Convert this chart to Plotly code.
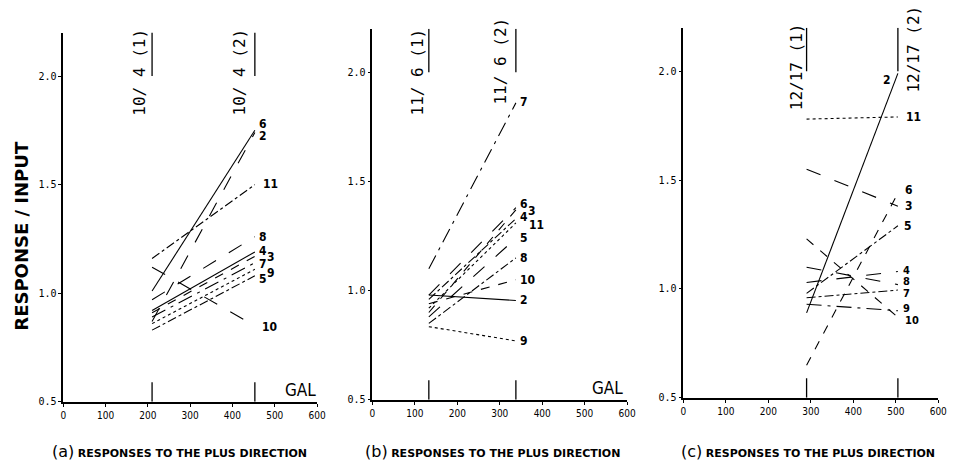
import plotly.graph_objects as go

# ---------------- data ----------------
labels = ["2", "3", "4", "5", "6", "7", "8", "9", "10", "11"]

gal_a = [210, 453]
start_a = [0.87, 0.91, 0.92, 0.83, 1.01, 0.89, 0.97, 0.86, 1.12, 1.16]
end_a = [1.74, 1.17, 1.19, 1.08, 1.75, 1.14, 1.26, 1.11, 0.85, 1.50]

gal_b = [133, 338]
start_b = [0.98, 0.90, 0.96, 0.88, 0.98, 1.10, 0.85, 0.835, 0.94, 0.92]
end_b = [0.955, 1.37, 1.33, 1.24, 1.38, 1.86, 1.15, 0.77, 1.05, 1.31]

gal_c = [290, 505]
start_c = [0.89, 1.55, 1.03, 0.98, 0.65, 0.96, 1.10, 0.93, 1.23, 1.78]
end_c = [1.99, 1.38, 1.08, 1.29, 1.44, 0.995, 1.02, 0.90, 0.87, 1.79]

dates_a = ["10/ 4 (1)", "10/ 4 (2)"]
dates_b = ["11/ 6 (1)", "11/ 6 (2)"]
dates_c = ["12/17 (1)", "12/17 (2)"]

x_ticks = [0, 100, 200, 300, 400, 500, 600]
y_ticks = [0.5, 1.0, 1.5, 2.0]
y_ticktext = ["0.5", "1.0", "1.5", "2.0"]

# ---------------- styles ----------------
dash_a = ["longdash", "dash", "solid", "dashdot", "solid", "longdashdot", "longdash", "dot", "longdash", "dashdot"]
dash_b = ["solid", "dash", "dashdot", "longdash", "longdash", "longdashdot", "dashdot", "dot", "dash", "dot"]
dash_c = ["solid", "longdash", "longdash", "dashdot", "dash", "dashdot", "longdash", "longdashdot", "dash", "dot"]

# label pixel offsets (dx, dy) relative to line end
off_a = {"6": (0, 6), "2": (0, -4), "4": (0, 1), "3": (8, -1), "9": (8, -4), "7": (0, -1),
         "5": (0, -3), "10": (3, -1), "11": (4, 1)}
off_b = {"6": (0, 4), "3": (8, -1), "4": (0, 2), "11": (9, -2), "7": (0, 1)}
off_c = {"6": (3, 3), "3": (3, 0), "5": (2, 0), "11": (4, 0), "4": (1, 1), "8": (1, 3),
         "7": (1, -3), "10": (3, -3), "9": (1, 2)}
small_c = {"4", "8", "7", "9", "10"}

FONT_C = "DejaVu Sans Condensed, Liberation Sans Narrow, sans-serif"
FONT_M = "DejaVu Sans Mono, monospace"
FONT_S = "DejaVu Sans, sans-serif"

W, H = 966, 470


def px_x(p):
    return p / W


def px_y(p):
    return (H - p) / H


fig = go.Figure()

panels = [
    ("x", "y", gal_a, start_a, end_a, dash_a, off_a, dates_a, [61, 318], [407, 33]),
    ("x2", "y2", gal_b, start_b, end_b, dash_b, off_b, dates_b, [374, 632], [405, 29]),
    ("x3", "y3", gal_c, start_c, end_c, dash_c, off_c, dates_c, [689, 947], [403, 28]),
]

annotations = []

for pi, (xa, ya, gal, st, en, dashes, offs, dates, xpx, ypx) in enumerate(panels):
    for i, lab in enumerate(labels):
        fig.add_trace(go.Scatter(
            x=[gal[0], gal[1]], y=[st[i], en[i]], mode="lines",
            line=dict(color="black", width=1.1, dash=dashes[i]),
            xaxis=xa, yaxis=ya, showlegend=False, hoverinfo="skip"))
        dx, dy = offs.get(lab, (0, 0))
        fsize = 11 if (pi == 2 and lab in small_c) else 12
        if pi == 2 and lab == "2":
            annotations.append(dict(x=gal[1], y=en[i], xref=xa, yref=ya, text="<b>2</b>",
                                    showarrow=False, xanchor="right", xshift=-5, yshift=-7,
                                    font=dict(family=FONT_C, size=12, color="black")))
        else:
            annotations.append(dict(x=gal[1], y=en[i], xref=xa, yref=ya, text="<b>" + lab + "</b>",
                                    showarrow=False, xanchor="left", xshift=3 + dx, yshift=dy,
                                    borderpad=0,
                                    font=dict(family=FONT_C, size=fsize, color="black")))
    # GAL markers bottom and top
    for g in gal:
        fig.add_trace(go.Scatter(x=[g, g], y=[0.5, 0.59], mode="lines",
                                 line=dict(color="black", width=1.3),
                                 xaxis=xa, yaxis=ya, showlegend=False, hoverinfo="skip"))
        fig.add_trace(go.Scatter(x=[g, g], y=[2.0, 2.2], mode="lines",
                                 line=dict(color="black", width=1.3),
                                 xaxis=xa, yaxis=ya, showlegend=False, hoverinfo="skip"))

layout_axes = {}
for pi, (xa, ya, gal, st, en, dashes, offs, dates, xpx, ypx) in enumerate(panels):
    xname = "xaxis" if xa == "x" else "xaxis" + xa[1:]
    yname = "yaxis" if ya == "y" else "yaxis" + ya[1:]
    layout_axes[xname] = dict(
        domain=[px_x(xpx[0]), px_x(xpx[1])], anchor=ya, range=[0, 600],
        tickvals=x_ticks, ticks="outside", ticklen=3, tickwidth=1, tickcolor="black",
        showline=True, linecolor="black", linewidth=1.6, showgrid=False, zeroline=False,
        tickfont=dict(family=FONT_C, size=10, color="black"), fixedrange=True)
    layout_axes[yname] = dict(
        domain=[px_y(ypx[0]), px_y(ypx[1])], anchor=xa, range=[0.5, 2.2],
        tickvals=y_ticks, ticktext=y_ticktext, ticks="outside", ticklen=3, tickwidth=1,
        tickcolor="black", showline=True, linecolor="black", linewidth=1.6,
        showgrid=False, zeroline=False,
        tickfont=dict(family=FONT_M, size=10, color="black"), fixedrange=True)

# date labels (rotated)
date_specs = [
    ("x", "y", gal_a, dates_a, [("right", -2, 5), ("right", -5, 5)]),
    ("x2", "y2", gal_b, dates_b, [("right", -1, 1), ("right", -5, 12)]),
    ("x3", "y3", gal_c, dates_c, [("right", 0, 5), ("left", 5, 23)]),
]
for xa, ya, gal, dates, specs in date_specs:
    for g, d, (anc, xs, ys) in zip(gal, dates, specs):
        annotations.append(dict(x=g, y=2.2, xref=xa, yref=ya, text=d, textangle=-90,
                                showarrow=False, xanchor=anc, yanchor="top",
                                xshift=xs, yshift=ys, borderpad=0,
                                font=dict(family=FONT_M, size=16, color="black")))

# GAL labels
for xa, ya, gx in [("x", "y", 560), ("x2", "y2", 553), ("x3", "y3", 602)]:
    annotations.append(dict(x=gx, y=0.553, xref=xa, yref=ya, text="GAL", showarrow=False,
                            xanchor="center", yanchor="middle",
                            font=dict(family=FONT_C, size=17, color="black")))

# subtitles
for cx, letter in [(179, "a"), (496, "b"), (815, "c")]:
    annotations.append(dict(x=px_x(cx), y=px_y(457), xref="paper", yref="paper",
                            text="<span style='font-size:16px'>(" + letter + ")</span> "
                                 "<b>RESPONSES TO THE PLUS DIRECTION</b>",
                            showarrow=False, xanchor="center", yanchor="middle",
                            font=dict(family=FONT_S, size=11, color="black")))

# y-axis title
annotations.append(dict(x=px_x(19), y=px_y(239), xref="paper", yref="paper",
                        text="<b>RESPONSE / INPUT</b>", textangle=-90, showarrow=False,
                        xanchor="center", yanchor="middle",
                        font=dict(family=FONT_S, size=18, color="black")))

fig.update_layout(
    width=W, height=H, margin=dict(l=0, r=0, t=0, b=0),
    paper_bgcolor="white", plot_bgcolor="white", showlegend=False,
    annotations=annotations, **layout_axes)

fig.write_html("out.html", config={"displayModeBar": False},
               post_script="document.body.style.margin='0';document.body.style.overflow='hidden';")
